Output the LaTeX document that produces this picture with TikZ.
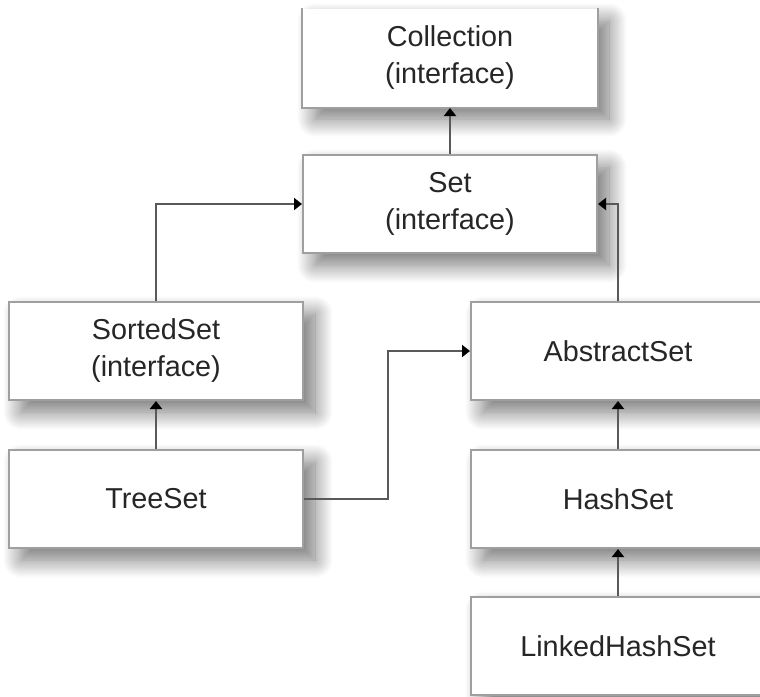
\documentclass[tikz,border=0pt]{standalone}
\usepackage{fontspec}
\setmainfont{Liberation Sans}
\usetikzlibrary{arrows.meta,shadows.blur}

\begin{document}
\begin{tikzpicture}[x = 0.5pt, y = -0.5pt, line width = 1pt,
  box/.style = {minimum width = 147pt, minimum height = 49pt, inner sep = 0pt, fill = white, draw = gray!75,
    align = center, text = black!85, font = \fontsize{14.4}{18.5}\selectfont,
    blur shadow = {shadow xshift = 6pt, shadow yshift = -6pt, shadow blur radius = 9pt,
      shadow blur steps = 20, shadow opacity = 55}},
  conn/.style = {draw = black!65, line width = 1.2pt, -{Triangle[length = 4pt, width = 6pt, color = black]}}]
\useasboundingbox (0, 0) rectangle (760, 696);
\clip (0, 0) rectangle (760, 696);
\node[box, draw = none] (coll) at (450, 58) {Collection\\(interface)};
\draw[gray!75] (coll.north west) -- (coll.south west) -- (coll.south east) -- (coll.north east);
\node[box] (set) at (450, 204) {Set\\(interface)};
\node[box] (sorted) at (156, 351) {SortedSet\\(interface)};
\node[box] (abstract) at (618, 351) {AbstractSet};
\node[box] (tree) at (156, 499) {TreeSet};
\node[box] (hash) at (618, 499) {HashSet};
\node[box] (linked) at (618, 646) {LinkedHashSet};
\foreach \a/\b in {set/coll, tree/sorted, hash/abstract, linked/hash}{\draw[conn] (\a) -- (\b);}
\draw[conn] (sorted.north) |- (set.west);
\draw[conn] (abstract.north) |- (set.east);
\draw[conn] (tree.east) -- ++(84, 0) |- (abstract.west);
\end{tikzpicture}
\end{document}
